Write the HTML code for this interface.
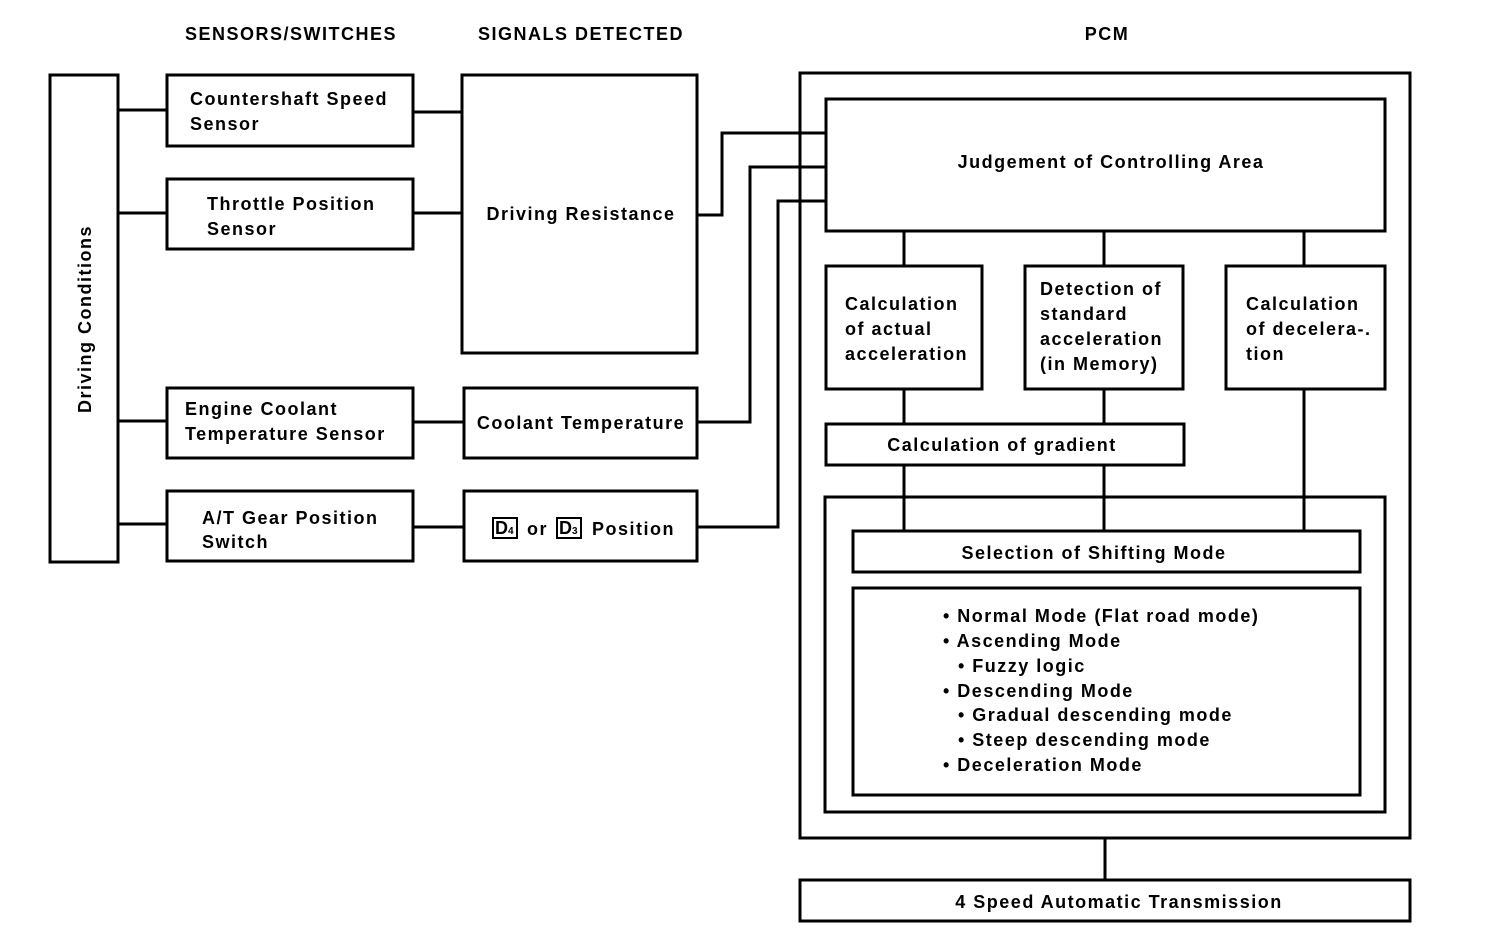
<!DOCTYPE html>
<html><head><meta charset="utf-8"><style>
html,body{margin:0;padding:0;background:#fff}
svg{display:block}
text{font-family:"Liberation Sans",Arial,sans-serif;font-weight:bold;font-size:18px;fill:#000;letter-spacing:1.5px}
</style></head><body>
<svg width="1504" height="940" viewBox="0 0 1504 940" xmlns="http://www.w3.org/2000/svg">
<g fill="none" stroke="#000" stroke-width="3">
<rect x="50" y="75" width="68" height="487"/>
<rect x="167" y="75" width="246" height="71"/>
<rect x="167" y="179" width="246" height="70"/>
<rect x="167" y="388" width="246" height="70"/>
<rect x="167" y="491" width="246" height="70"/>
<rect x="462" y="75" width="235" height="278"/>
<rect x="464" y="388" width="233" height="70"/>
<rect x="464" y="491" width="233" height="70"/>
<rect x="800" y="73" width="610" height="765"/>
<rect x="826" y="99" width="559" height="132"/>
<rect x="826" y="266" width="156" height="123"/>
<rect x="1025" y="266" width="158" height="123"/>
<rect x="1226" y="266" width="159" height="123"/>
<rect x="826" y="424" width="358" height="41"/>
<rect x="825" y="497" width="560" height="315"/>
<rect x="853" y="531" width="507" height="41"/>
<rect x="853" y="588" width="507" height="207"/>
<rect x="800" y="880" width="610" height="41"/>
<path d="M118 110H167M118 213H167M118 421H167M118 524H167"/>
<path d="M413 112H462M413 213H462M413 422H464M413 527H464"/>
<path d="M697 215H722V133H826M697 422H750V167H826M697 527H778V201H826"/>
<path d="M904 231V266M1104 231V266M1304 231V266"/>
<path d="M904 389V424M1104 389V424M904 465V531M1104 465V531M1304 389V531"/>
<path d="M1105 838V880"/>
<rect x="493" y="518" width="24" height="20" stroke-width="2"/>
<rect x="557" y="518" width="24" height="20" stroke-width="2"/>
</g>
<text x="291" y="40" text-anchor="middle">SENSORS/SWITCHES</text>
<text x="581" y="40" text-anchor="middle">SIGNALS DETECTED</text>
<text x="1107" y="40" text-anchor="middle">PCM</text>
<text transform="translate(91,319) rotate(-90)" text-anchor="middle">Driving Conditions</text>
<text x="190" y="105">Countershaft Speed</text>
<text x="190" y="130">Sensor</text>
<text x="207" y="210">Throttle Position</text>
<text x="207" y="235">Sensor</text>
<text x="185" y="415">Engine Coolant</text>
<text x="185" y="440">Temperature Sensor</text>
<text x="202" y="524">A/T Gear Position</text>
<text x="202" y="548">Switch</text>
<text x="581" y="220" text-anchor="middle">Driving Resistance</text>
<text x="581" y="429" text-anchor="middle">Coolant Temperature</text>
<text x="495" y="534" font-size="16" style="letter-spacing:0">D<tspan font-size="10">4</tspan></text>
<text x="527" y="535">or</text>
<text x="559" y="534" font-size="16" style="letter-spacing:0">D<tspan font-size="10">3</tspan></text>
<text x="592" y="535">Position</text>
<text x="1111" y="168" text-anchor="middle">Judgement of Controlling Area</text>
<text x="845" y="310">Calculation</text>
<text x="845" y="335">of actual</text>
<text x="845" y="360">acceleration</text>
<text x="1040" y="295">Detection of</text>
<text x="1040" y="320">standard</text>
<text x="1040" y="345">acceleration</text>
<text x="1040" y="370">(in Memory)</text>
<text x="1246" y="310">Calculation</text>
<text x="1246" y="335">of decelera-.</text>
<text x="1246" y="360">tion</text>
<text x="1002" y="451" text-anchor="middle">Calculation of gradient</text>
<text x="1094" y="559" text-anchor="middle">Selection of Shifting Mode</text>
<text x="943" y="622">• Normal Mode (Flat road mode)</text>
<text x="943" y="647">• Ascending Mode</text>
<text x="958" y="672">• Fuzzy logic</text>
<text x="943" y="697">• Descending Mode</text>
<text x="958" y="721">• Gradual descending mode</text>
<text x="958" y="746">• Steep descending mode</text>
<text x="943" y="771">• Deceleration Mode</text>
<text x="1119" y="908" text-anchor="middle">4 Speed Automatic Transmission</text>
</svg>
</body></html>
